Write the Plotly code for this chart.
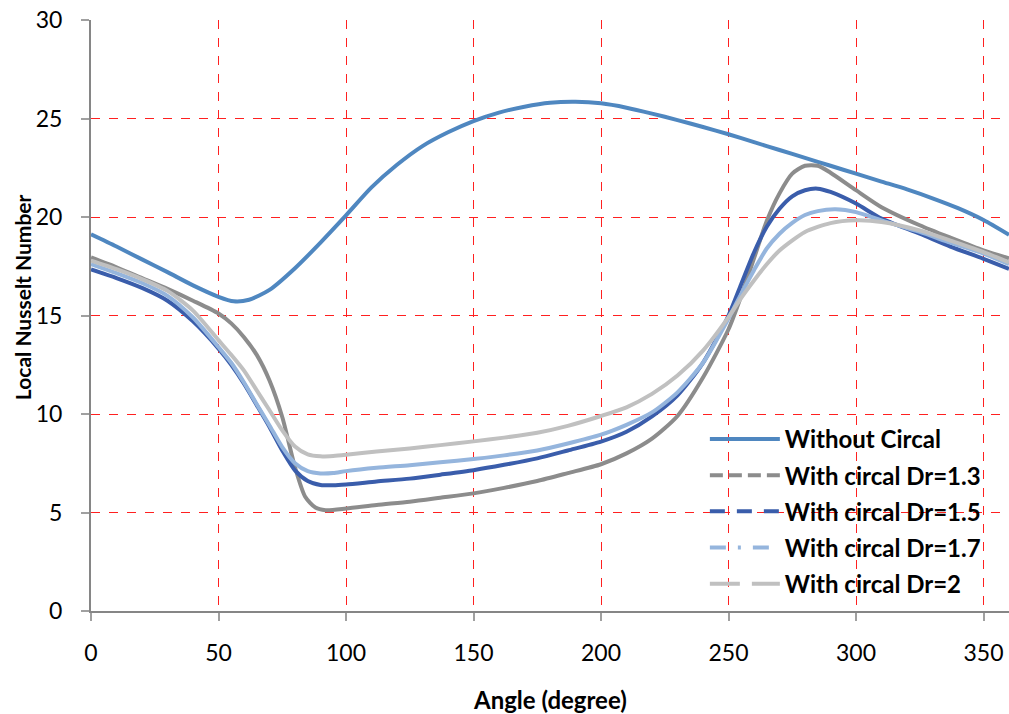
import plotly.graph_objects as go

# ---- data ----
angle_wo = [0, 10, 20, 30, 40, 50, 56, 62, 70, 80, 90, 100, 110, 120, 130, 140, 150, 160, 170, 180, 190, 200, 210, 220, 230, 240, 250, 260, 270, 280, 290, 300, 310, 320, 330, 340, 350, 360]
nu_wo = [19.12, 18.5, 17.85, 17.2, 16.53, 15.95, 15.72, 15.8, 16.3, 17.4, 18.7, 20.08, 21.5, 22.65, 23.6, 24.3, 24.87, 25.3, 25.6, 25.8, 25.85, 25.77, 25.55, 25.25, 24.92, 24.57, 24.2, 23.8, 23.4, 23.0, 22.6, 22.2, 21.8, 21.4, 20.95, 20.45, 19.85, 19.1]

angle_13 = [0, 10, 20, 30, 40, 50, 55, 60, 65, 70, 75, 80, 84, 88, 92, 100, 112, 125, 137, 150, 162, 175, 187, 200, 210, 220, 230, 240, 250, 255, 260, 265, 270, 275, 280, 285, 290, 300, 310, 325, 337, 350, 360]
nu_13 = [17.95, 17.45, 16.9, 16.35, 15.75, 15.1, 14.6, 13.9, 13.0, 11.7, 9.85, 7.3, 5.8, 5.25, 5.12, 5.2, 5.38, 5.55, 5.75, 5.97, 6.25, 6.6, 7.0, 7.45, 8.0, 8.75, 9.9, 11.85, 14.3, 16.0, 17.9, 19.8, 21.2, 22.2, 22.6, 22.6, 22.25, 21.36, 20.5, 19.58, 18.95, 18.3, 17.9]

angle_15 = [0, 10, 20, 30, 40, 50, 55, 60, 65, 70, 75, 80, 85, 90, 95, 100, 112, 125, 137, 150, 162, 175, 187, 200, 210, 220, 230, 240, 250, 255, 260, 265, 270, 275, 280, 285, 290, 300, 310, 325, 337, 350, 360]
nu_15 = [17.34, 16.9, 16.4, 15.75, 14.7, 13.32, 12.5, 11.54, 10.45, 9.34, 8.15, 7.14, 6.6, 6.4, 6.38, 6.42, 6.57, 6.72, 6.92, 7.15, 7.42, 7.75, 8.15, 8.6, 9.1, 9.88, 10.95, 12.6, 15.0, 16.6, 18.2, 19.5, 20.42, 21.05, 21.36, 21.44, 21.27, 20.68, 19.92, 19.15, 18.5, 17.88, 17.37]

angle_17 = [0, 10, 20, 30, 40, 50, 55, 60, 65, 70, 75, 80, 85, 90, 95, 100, 112, 125, 137, 150, 162, 175, 187, 200, 210, 220, 230, 240, 250, 255, 260, 265, 270, 275, 280, 285, 292, 300, 310, 325, 337, 350, 360]
nu_17 = [17.61, 17.15, 16.65, 16.0, 14.9, 13.4, 12.6, 11.6, 10.5, 9.42, 8.32, 7.5, 7.1, 6.98, 7.0, 7.1, 7.27, 7.4, 7.55, 7.71, 7.9, 8.15, 8.5, 8.95, 9.45, 10.08, 11.1, 12.6, 14.85, 16.1, 17.3, 18.4, 19.15, 19.7, 20.1, 20.3, 20.39, 20.25, 19.83, 19.24, 18.7, 18.14, 17.6]

angle_20 = [0, 10, 20, 30, 40, 50, 55, 60, 65, 70, 75, 80, 85, 90, 95, 100, 112, 125, 137, 150, 162, 175, 187, 200, 210, 220, 230, 240, 250, 255, 260, 265, 270, 280, 290, 300, 310, 325, 337, 350, 360]
nu_20 = [17.78, 17.35, 16.85, 16.25, 15.25, 13.75, 13.0, 12.2, 11.2, 10.19, 9.17, 8.35, 7.95, 7.85, 7.87, 7.93, 8.1, 8.25, 8.42, 8.61, 8.8, 9.05, 9.4, 9.9, 10.34, 11.02, 11.95, 13.22, 14.92, 15.9, 16.78, 17.6, 18.3, 19.24, 19.69, 19.83, 19.75, 19.32, 18.8, 18.22, 17.7]

series_names = ["Without Circal", "With circal Dr=1.3", "With circal Dr=1.5",
                "With circal Dr=1.7", "With circal Dr=2"]
x_ticks = [0, 50, 100, 150, 200, 250, 300, 350]
y_ticks = [0, 5, 10, 15, 20, 25, 30]
x_title = "Angle (degree)"
y_title = "Local Nusselt Number"

colors = ["#4F87C0", "#8C8C8C", "#3A5DAB", "#95B5DD", "#C0C0C0"]
legend_dash = ["solid", "13px,6px", "15px,12px", "16px,12px,3px,12px", "30px,12px"]

FONT = "Lato"

fig = go.Figure()
data = [(angle_wo, nu_wo), (angle_13, nu_13), (angle_15, nu_15),
        (angle_17, nu_17), (angle_20, nu_20)]
for i in range(5):
    xs, ys = data[i]
    fig.add_trace(go.Scatter(
        x=xs, y=ys, mode="lines", name=series_names[i],
        line=dict(color=colors[i], width=4, shape="spline", smoothing=0.7),
        showlegend=False, hoverinfo="x+y"))

# legend-only entries (legend samples show dash styles)
for i in range(5):
    fig.add_trace(go.Scatter(
        x=[None], y=[None], mode="lines", name=series_names[i],
        legendgroup="g%d" % i,
        line=dict(color=colors[i], width=4, dash=legend_dash[i]),
        showlegend=True))

axis_common = dict(
    showgrid=True, gridcolor="#FF2020", griddash="dash", gridwidth=1.3,
    showline=True, linecolor="#868686", linewidth=2,
    ticks="outside", ticklen=8, tickcolor="#A0A0A0", tickwidth=1.5,
    tickfont=dict(family=FONT, size=23, color="black"),
    zeroline=False, automargin=False, ticklabeloverflow="allow",
)

fig.update_layout(
    width=1009, height=714,
    margin=dict(l=91, r=0, t=20, b=103),
    paper_bgcolor="white", plot_bgcolor="white",
    font=dict(family=FONT, color="black"),
    legend=dict(
        x=0.6687, y=0.3285, xanchor="left", yanchor="top",
        bgcolor="rgba(255,255,255,0)",
        font=dict(family=FONT, size=24, color="black", weight="bold"),
        itemwidth=70, tracegroupgap=2, traceorder="grouped",
    ),
    xaxis=dict(range=[0, 360], tickvals=x_ticks,
               ticktext=[str(v) for v in x_ticks],
               ticklabelstandoff=12, **axis_common),
    yaxis=dict(range=[0, 30], tickvals=y_ticks,
               ticktext=[str(v) for v in y_ticks],
               ticklabelstandoff=14, **axis_common),
    annotations=[
        dict(text=x_title, xref="paper", yref="paper", x=0.5, y=-0.149,
             xanchor="center", yanchor="middle", showarrow=False,
             font=dict(family=FONT, size=24, color="black", weight="bold")),
        dict(text=y_title, xref="paper", yref="paper", x=-0.0752, y=0.531,
             xanchor="center", yanchor="middle", showarrow=False, textangle=-90,
             font=dict(family=FONT, size=21, color="black", weight="bold")),
    ],
)

fig.write_html(
    "out.html",
    config={"displayModeBar": False},
    post_script="document.body.style.margin='0';document.body.style.overflow='hidden';",
)
